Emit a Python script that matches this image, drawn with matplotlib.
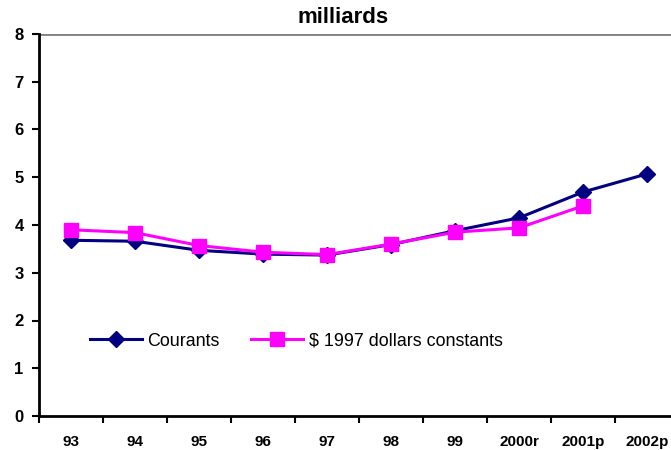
import matplotlib
matplotlib.use('Agg')
import matplotlib.pyplot as plt
import numpy as np

# Data
years = ['93', '94', '95', '96', '97', '98', '99', '2000r', '2001p', '2002p']
courants = [3.68, 3.66, 3.47, 3.39, 3.37, 3.59, 3.88, 4.15, 4.69, 5.07]
constants_1997 = [3.90, 3.84, 3.57, 3.43, 3.38, 3.60, 3.85, 3.94, 4.40]

plt.rcParams['font.family'] = ['Liberation Sans', 'DejaVu Sans']

W, H = 671, 450
fig = plt.figure(figsize=(W / 100, H / 100), dpi=100)
# plot area: x 39..679 px (runs past right edge), y 34..416 px
ax = fig.add_axes([39 / W, (H - 416) / H, 640 / W, 382 / H])

x = np.arange(len(years))
ax.plot(x, courants, color='#000080', lw=2.2, marker='D', ms=8,
        mec='#000080', mfc='#000080', label='Courants', clip_on=False, zorder=3)
ax.plot(x[:len(constants_1997)], constants_1997, color='#FF00FF', lw=2.2, marker='s', ms=10.5,
        mec='#FF00FF', mfc='#FF00FF', label='$ 1997 dollars constants', zorder=4)

ax.set_xlim(-0.5, len(years) - 0.5)
ax.set_ylim(0, 8)
ax.set_yticks(range(0, 9))
ax.set_yticklabels([str(v) for v in range(0, 9)], fontsize=12, fontweight='bold')

# category labels at centres, ticks at category boundaries
ax.set_xticks(np.arange(len(years) + 1) - 0.5)
ax.set_xticklabels([])
ax.set_xticks(x, minor=True)
ax.set_xticklabels(years, minor=True, fontsize=11, fontweight='bold')
ax.tick_params(axis='x', which='minor', length=0, pad=14)
ax.tick_params(axis='x', which='major', length=5, width=1.5, color='black')
ax.tick_params(axis='y', length=5, width=1.5, pad=6)

for s in ['top', 'right']:
    ax.spines[s].set_visible(False)
ax.spines['left'].set_linewidth(2)
ax.spines['bottom'].set_linewidth(2)
ax.axhline(8, color='#808080', lw=2, zorder=1)

ax.text(0.475, 1.017, 'milliards', transform=ax.transAxes, ha='center', va='bottom',
        fontsize=16, fontweight='bold')

ax.legend(loc='center left', bbox_to_anchor=(0.08, 0.196), ncol=2, frameon=False,
          fontsize=12.9, handlelength=2.9, handletextpad=0.3, columnspacing=1.75,
          borderpad=0, borderaxespad=0)

fig.savefig('out.png', dpi=100)
